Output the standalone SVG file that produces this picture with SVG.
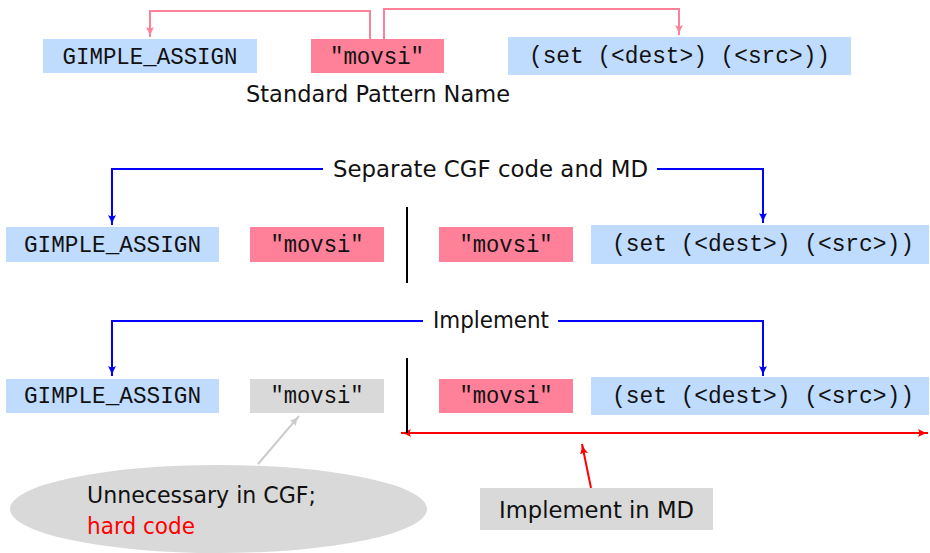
<svg xmlns="http://www.w3.org/2000/svg" width="930" height="553" viewBox="0 0 930 553">
<style>
.blue{fill:#bfdbfe}
.pink{fill:#ff8099}
.gray{fill:#d9d9d9}
.tt{font-family:"Liberation Mono","DejaVu Sans Mono",monospace;font-size:24px;fill:#111;text-anchor:middle}
.sf{font-family:"DejaVu Sans","Liberation Sans",sans-serif;font-size:23px;fill:#111}
.c{fill:none;stroke-width:2}
</style>
<defs>
<marker id="ap" markerWidth="12" markerHeight="12" refX="10" refY="6" orient="auto" markerUnits="userSpaceOnUse"><path d="M0,2 Q5,5 10,6 Q5,7 0,10 Q2.5,6 0,2Z" fill="#ff8099"/></marker>
<marker id="ab" markerWidth="12" markerHeight="12" refX="10" refY="6" orient="auto" markerUnits="userSpaceOnUse"><path d="M0,2 Q5,5 10,6 Q5,7 0,10 Q2.5,6 0,2Z" fill="#0000ff"/></marker>
<marker id="ar" markerWidth="12" markerHeight="12" refX="10" refY="6" orient="auto-start-reverse" markerUnits="userSpaceOnUse"><path d="M0,2 Q5,5 10,6 Q5,7 0,10 Q2.5,6 0,2Z" fill="#ff0000"/></marker>
<marker id="ag" markerWidth="12" markerHeight="12" refX="10" refY="6" orient="auto" markerUnits="userSpaceOnUse"><path d="M0,2 Q5,5 10,6 Q5,7 0,10 Q2.5,6 0,2Z" fill="#cccccc"/></marker>
</defs>

<g id="connectors">
<path class="c" stroke="#ff8099" d="M370,39 V11 H150 V37" marker-end="url(#ap)"/>
<path class="c" stroke="#ff8099" d="M384,39 V9 H679 V35" marker-end="url(#ap)"/>
<path class="c" stroke="#0000ff" d="M323,169 H112 V225" marker-end="url(#ab)"/>
<path class="c" stroke="#0000ff" d="M657,169 H763 V223" marker-end="url(#ab)"/>
<path class="c" stroke="#0000ff" d="M423,321 H112 V376" marker-end="url(#ab)"/>
<path class="c" stroke="#0000ff" d="M558,321 H763 V376" marker-end="url(#ab)"/>
<path class="c" stroke="#ff0000" d="M401,433 H928" marker-start="url(#ar)" marker-end="url(#ar)"/>
<path class="c" stroke="#ff0000" d="M591,488 L582,444" marker-end="url(#ar)"/>
<path class="c" stroke="#cccccc" stroke-width="1.5" d="M258,464 L299,416" marker-end="url(#ag)"/>
<path class="c" stroke="#000" d="M407,207 V283"/>
<path class="c" stroke="#000" d="M407,358 V433"/>
</g>

<g id="r1-gimple"><rect class="blue" x="43" y="39" width="214" height="34"/><text class="tt" x="150" y="64" textLength="175" lengthAdjust="spacingAndGlyphs">GIMPLE_ASSIGN</text></g>
<g id="r1-movsi"><rect class="pink" x="311" y="39" width="133" height="34"/><text class="tt" x="377" y="64" textLength="94" lengthAdjust="spacingAndGlyphs">"movsi"</text></g>
<g id="r1-set"><rect class="blue" x="508" y="37" width="343" height="38"/><text class="tt" x="679.5" y="63" textLength="301" lengthAdjust="spacingAndGlyphs">(set (&lt;dest&gt;) (&lt;src&gt;))</text></g>
<g id="r1-label"><text class="sf" x="246" y="102" textLength="264" lengthAdjust="spacingAndGlyphs">Standard Pattern Name</text></g>

<g id="r2-label"><text class="sf" x="333" y="177" textLength="315" lengthAdjust="spacingAndGlyphs">Separate CGF code and MD</text></g>
<g id="r2-gimple"><rect class="blue" x="6" y="227" width="213" height="35"/><text class="tt" x="112.5" y="252" textLength="177" lengthAdjust="spacingAndGlyphs">GIMPLE_ASSIGN</text></g>
<g id="r2-movsi-a"><rect class="pink" x="250" y="227" width="134" height="35"/><text class="tt" x="317" y="252" textLength="93" lengthAdjust="spacingAndGlyphs">"movsi"</text></g>
<g id="r2-movsi-b"><rect class="pink" x="439" y="227" width="134" height="35"/><text class="tt" x="506" y="252" textLength="93" lengthAdjust="spacingAndGlyphs">"movsi"</text></g>
<g id="r2-set"><rect class="blue" x="591" y="225" width="338" height="39"/><text class="tt" x="763" y="251" textLength="302" lengthAdjust="spacingAndGlyphs">(set (&lt;dest&gt;) (&lt;src&gt;))</text></g>

<g id="r3-label"><text class="sf" x="433" y="328" textLength="116" lengthAdjust="spacingAndGlyphs">Implement</text></g>
<g id="r3-gimple"><rect class="blue" x="6" y="379" width="213" height="34"/><text class="tt" x="112.5" y="403" textLength="177" lengthAdjust="spacingAndGlyphs">GIMPLE_ASSIGN</text></g>
<g id="r3-movsi-a"><rect class="gray" x="250" y="379" width="134" height="34"/><text class="tt" x="317" y="403" textLength="93" lengthAdjust="spacingAndGlyphs">"movsi"</text></g>
<g id="r3-movsi-b"><rect class="pink" x="439" y="379" width="134" height="34"/><text class="tt" x="506" y="403" textLength="93" lengthAdjust="spacingAndGlyphs">"movsi"</text></g>
<g id="r3-set"><rect class="blue" x="591" y="377" width="338" height="38"/><text class="tt" x="763" y="403" textLength="302" lengthAdjust="spacingAndGlyphs">(set (&lt;dest&gt;) (&lt;src&gt;))</text></g>

<g id="note-cgf"><ellipse class="gray" cx="218.5" cy="509" rx="208.5" ry="44"/><text class="sf" x="87" y="503" textLength="229" lengthAdjust="spacingAndGlyphs">Unnecessary in CGF;</text><text class="sf" x="87" y="534" style="fill:#ff0000" textLength="108" lengthAdjust="spacingAndGlyphs">hard code</text></g>
<g id="note-md"><rect class="gray" x="480" y="488" width="233" height="42"/><text class="sf" x="499" y="518" textLength="195" lengthAdjust="spacingAndGlyphs">Implement in MD</text></g>
</svg>
